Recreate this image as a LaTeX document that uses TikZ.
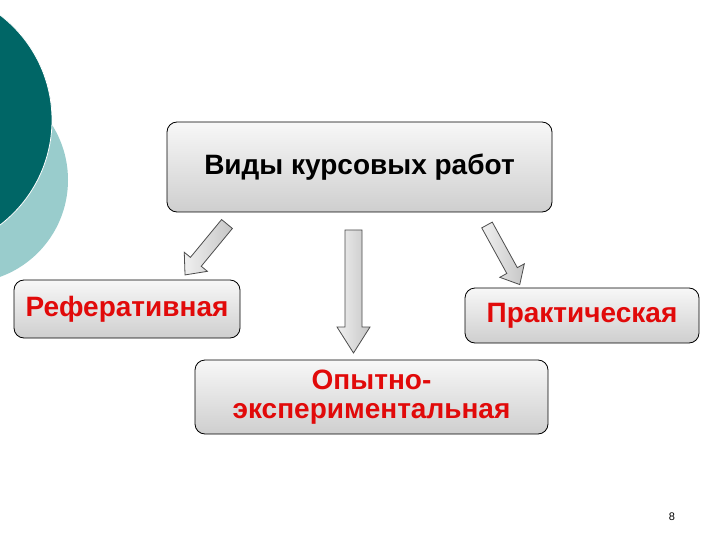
\documentclass[tikz,border=0pt]{standalone}
\usepackage{fontspec}
\setmainfont{Liberation Sans}
\definecolor{tealdark}{RGB}{0,102,102}
\definecolor{teallight}{RGB}{153,204,204}
\definecolor{redtxt}{RGB}{225,10,10}
\tikzset{
  box/.style={draw=black, line width=0.8pt, rounded corners=10pt,
    top color=gray!6, bottom color=gray!38, inner sep=0pt, align=center,
    font=\bfseries\fontsize{28}{29}\selectfont},
  blockarr/.style={draw=gray!60!black, line width=0.8pt, left color=gray!12, right color=gray!45},
  pics/barrow/.style args={#1/#2/#3/#4}{code={
    \path[blockarr] (0,{#2/2}) -- ({#1-#4},{#2/2}) -- ({#1-#4},{#3/2}) -- (#1,0)
      -- ({#1-#4},{-#3/2}) -- ({#1-#4},{-#2/2}) -- (0,{-#2/2}) -- cycle;}}
}
\begin{document}
\begin{tikzpicture}[x=1pt,y=-1pt]
\useasboundingbox[fill=white] (0,0) rectangle (720,540);
% decorative circles
\fill[teallight] (-35,180) circle[radius=103];
\path[fill=tealdark, draw=white, line width=0.8pt] (-80,120) circle[radius=132];
% boxes
\node[box, minimum width=385, minimum height=90] (top) at (359.5,167) {Виды курсовых работ};
\node[box, minimum width=226, minimum height=58, text=redtxt] (ref) at (127,309) {Реферативная};
\node[box, minimum width=234, minimum height=55, text=redtxt] (prak) at (582,315.5) {Практическая};
\node[box, minimum width=353, minimum height=74, text=redtxt] (opyt) at (371.5,397) {Опытно-\\экспериментальная};
% block arrows
\pic[rotate=230.5] at (227,224) {barrow=66/14/30/17};
\pic[rotate=270] at (353.5,230) {barrow=123/17/33/26};
\pic[rotate=-61.2] at (487,225) {barrow=68/12/28/16};
% page number
\node[font=\fontsize{11}{11}\selectfont] (page) at (672,517) {8};
\end{tikzpicture}
\end{document}
